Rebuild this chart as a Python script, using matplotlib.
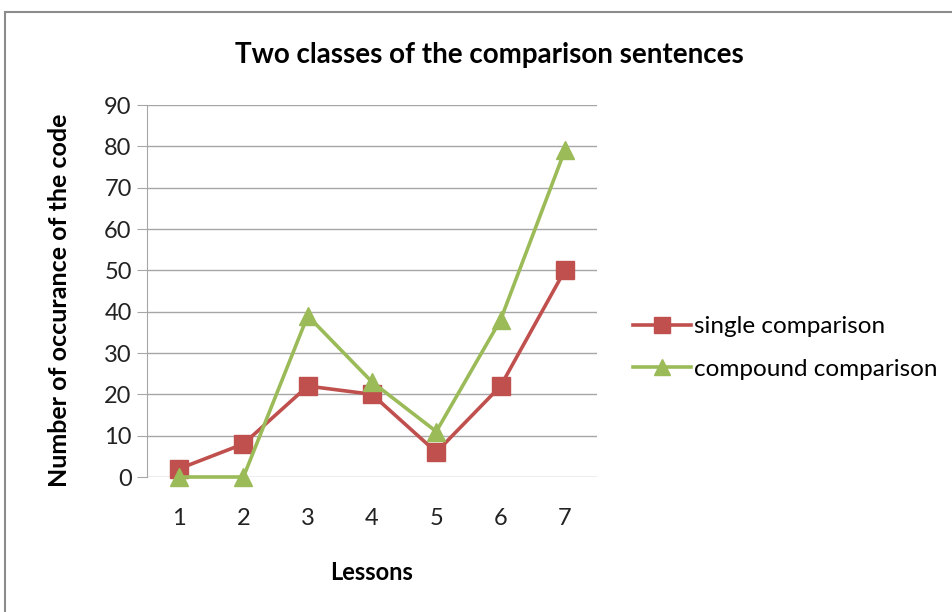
import matplotlib
matplotlib.use("Agg")
import matplotlib.pyplot as plt
from matplotlib.patches import Rectangle

lessons = [1, 2, 3, 4, 5, 6, 7]
single = [2, 8, 22, 20, 6, 22, 50]
compound = [0, 0, 39, 23, 11, 38, 79]

red = "#C0504D"
green = "#9BBB59"

plt.rcParams["font.family"] = ["Lato", "DejaVu Sans"]

fig = plt.figure(figsize=(9.53, 6.12), dpi=100)
fig.patches.append(Rectangle((5/953, -0.1), 1.2, 1 - 12/612 + 0.1, transform=fig.transFigure,
                             fill=False, edgecolor="#8c8c8c", linewidth=1.5))

ax = fig.add_axes([147/953, 1 - 477/612, 450/953, 372/612])
ax.plot(lessons, single, color=red, lw=2.6, marker="s", ms=13, label="single comparison",
        clip_on=False, zorder=3)
ax.plot(lessons, compound, color=green, lw=2.6, marker="^", ms=13, label="compound comparison",
        clip_on=False, zorder=4)

ax.set_xlim(0.5, 7.5)
ax.set_ylim(0, 90)
ax.set_yticks(range(0, 91, 10))
ax.set_xticks(lessons)
ax.yaxis.grid(True, color="#a6a6a6", lw=1)
ax.set_axisbelow(True)
for s in ["top", "right", "bottom"]:
    ax.spines[s].set_visible(False)
ax.spines["left"].set_color("#a6a6a6")
ax.tick_params(axis="y", length=7, color="#a6a6a6", labelsize=17, pad=4)
ax.tick_params(axis="x", length=0, labelsize=17, pad=22)
for t in ax.get_xticklabels() + ax.get_yticklabels():
    t.set_color("#222222")

fig.text(0.513, 1 - 55/612, "Two classes of the comparison sentences", ha="center", va="center",
         fontsize=20, fontweight="bold")
fig.text(60/953, 1 - 300/612, "Number of occurance of the code", rotation=90, ha="center",
         va="center", fontsize=18, fontweight="bold")
fig.text(372/953, 1 - 573/612, "Lessons", ha="center", va="center", fontsize=17, fontweight="bold")

fig.legend(loc="center left", bbox_to_anchor=(633/953, 1 - 348/612), frameon=False,
           fontsize=17.5, handlelength=2.4, handletextpad=0.1, labelspacing=0.9,
           borderpad=0, borderaxespad=0, markerscale=0.85)

fig.savefig("out.png", dpi=100)
